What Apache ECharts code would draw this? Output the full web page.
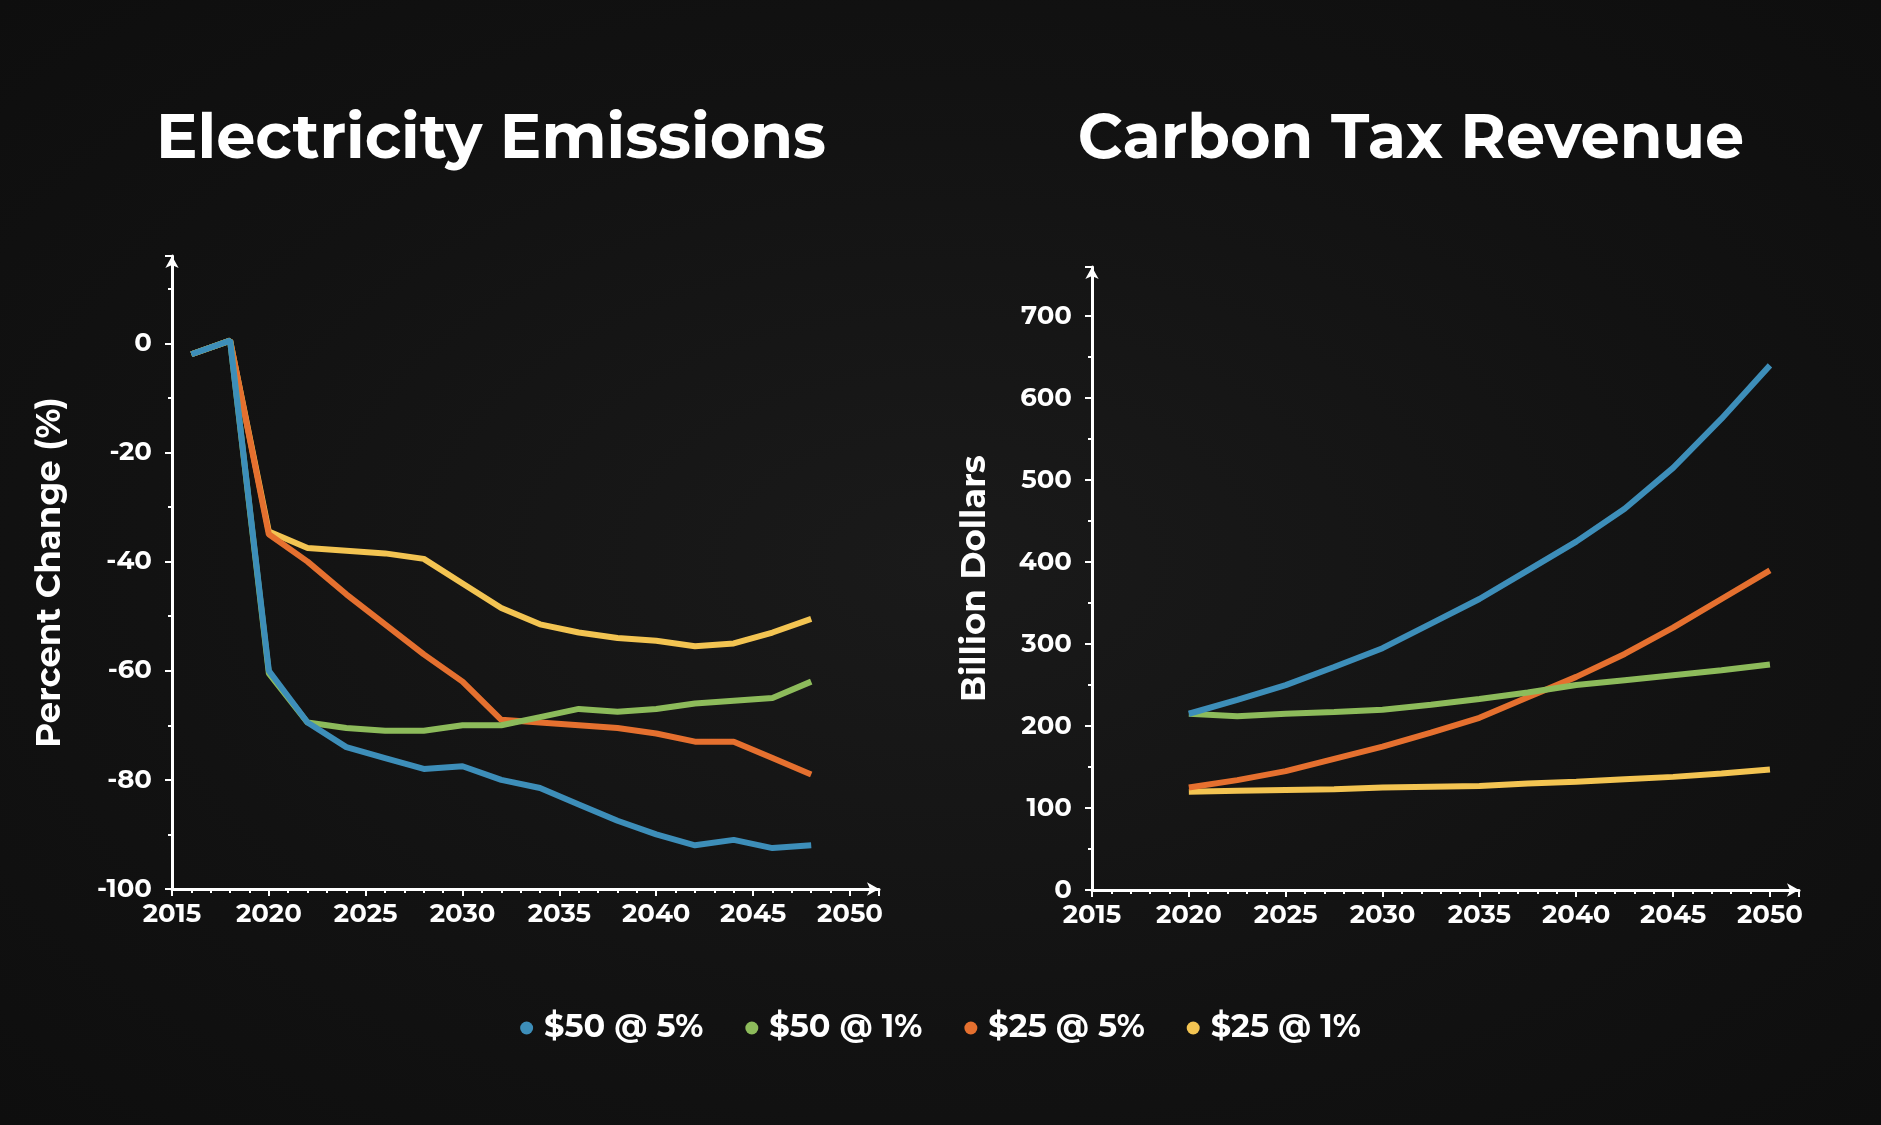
<!DOCTYPE html>
<html><head><meta charset="utf-8">
<script src="https://cdn.jsdelivr.net/npm/echarts@6/dist/echarts.min.js"></script>
<style>
html,body{margin:0;height:100%;background:radial-gradient(ellipse at center,#1a1a1a 0%,#121212 60%,#0e0e0e 100%);}
#c{width:1881px;height:1125px;}
</style></head><body><div id="c"></div>
<script>
// emissions (percent change), every two years
const emYears = [2016,2018,2020,2022,2024,2026,2028,2030,2032,2034,2036,2038,2040,2042,2044,2046,2048];
const emBlue   = [-2,0.5,-60,-69.5,-74,-76,-78,-77.5,-80,-81.5,-84.5,-87.5,-90,-92,-91,-92.5,-92];
const emGreen  = [-2,0.5,-60.5,-69.5,-70.5,-71,-71,-70,-70,-68.5,-67,-67.5,-67,-66,-65.5,-65,-62];
const emOrange = [-2,0.5,-35,-40,-46,-51.5,-57,-62,-69,-69.5,-70,-70.5,-71.5,-73,-73,-76,-79];
const emYellow = [-2,0.5,-34.5,-37.5,-38,-38.5,-39.5,-44,-48.5,-51.5,-53,-54,-54.5,-55.5,-55,-53,-50.5];

// revenue (billion dollars)
const revYears  = [2020,2022.5,2025,2027.5,2030,2032.5,2035,2037.5,2040,2042.5,2045,2047.5,2050];
const revBlue   = [215,232,250,272,295,325,355,390,425,465,515,575,640];
const revGreen  = [215,212,215,217,220,226,233,241,250,256,262,268,275];
const revOrange = [125,134,145,160,175,192,210,235,260,288,320,355,390];
const revYellow = [120,121,122,123,125,126,127,130,132,135,138,142,147];

const names = ['$50 @ 5%','$50 @ 1%','$25 @ 5%','$25 @ 1%'];
const colors = ['#3d8eb9','#8dbb5b','#e5702f','#f3c452'];

const font = 'Montserrat, "Open Sans", Lato, sans-serif';
const zip = (xs, ys) => xs.map((x, i) => [x, ys[i]]);

function xAxis(idx) {
  return {
    gridIndex: idx, type: 'value', min: 2015, max: 2051.5, interval: 5,
    axisLine: {onZero: false, lineStyle: {color: '#fff', width: 3}, symbol: ['none','arrow'], symbolSize: [10,12]},
    axisTick: {show: true, length: 7, lineStyle: {color: '#fff', width: 2}},
    minorTick: {show: true, splitNumber: 5, length: 4, lineStyle: {color: '#fff', width: 2}},
    axisLabel: {color: '#fff', fontFamily: font, fontWeight: 'bold', fontSize: 26, margin: 12,
      showMaxLabel: false, formatter: v => String(v)},
    splitLine: {show: false}
  };
}
function yAxis(idx, min, max, interval, name, minorSplit) {
  return {
    gridIndex: idx, type: 'value', min: min, max: max, interval: interval,
    name: name, nameLocation: 'middle', nameGap: idx ? 100 : 105,
    nameTextStyle: {color: '#fff', fontFamily: font, fontWeight: 'bold', fontSize: 34},
    axisLine: {show: true, onZero: false, lineStyle: {color: '#fff', width: 3}, symbol: ['none','arrow'], symbolSize: [10,12]},
    axisTick: {show: true, length: 7, lineStyle: {color: '#fff', width: 2}},
    minorTick: {show: true, splitNumber: minorSplit, length: 4, lineStyle: {color: '#fff', width: 2}},
    axisLabel: {color: '#fff', fontFamily: font, fontWeight: 'bold', fontSize: 26, margin: 20, showMaxLabel: false},
    splitLine: {show: false}
  };
}
function line(name, color, xi, data) {
  return {name: name, type: 'line', xAxisIndex: xi, yAxisIndex: xi, data: data,
    showSymbol: false, symbol: 'circle', lineStyle: {color: color, width: 6}, itemStyle: {color: color}};
}

const chart = echarts.init(document.getElementById('c'));
chart.setOption({
  backgroundColor: 'transparent',
  title: [
    {text: 'Electricity Emissions', left: 486, top: 104, textAlign: 'center',
      textStyle: {color: '#fff', fontFamily: font, fontWeight: 'bold', fontSize: 62}},
    {text: 'Carbon Tax Revenue', left: 1406, top: 104, textAlign: 'center',
      textStyle: {color: '#fff', fontFamily: font, fontWeight: 'bold', fontSize: 62}}
  ],
  legend: {data: names, bottom: 76, left: 'center', icon: 'circle', itemWidth: 13, itemHeight: 13, itemGap: 42,
    textStyle: {color: '#fff', fontFamily: font, fontWeight: 'bold', fontSize: 32, padding: [0, 0, 0, 6]}},
  grid: [
    {left: 172, right: 1002, top: 256, bottom: 236},
    {left: 1092, right: 82, top: 267, bottom: 235}
  ],
  xAxis: [xAxis(0), xAxis(1)],
  yAxis: [yAxis(0, -100, 16, 20, 'Percent Change (%)', 2), yAxis(1, 0, 760, 100, 'Billion Dollars', 2)],
  series: [
    line(names[3], colors[3], 0, zip(emYears, emYellow)),
    line(names[2], colors[2], 0, zip(emYears, emOrange)),
    line(names[1], colors[1], 0, zip(emYears, emGreen)),
    line(names[0], colors[0], 0, zip(emYears, emBlue)),
    line(names[3], colors[3], 1, zip(revYears, revYellow)),
    line(names[2], colors[2], 1, zip(revYears, revOrange)),
    line(names[1], colors[1], 1, zip(revYears, revGreen)),
    line(names[0], colors[0], 1, zip(revYears, revBlue))
  ]
});
</script></body></html>
